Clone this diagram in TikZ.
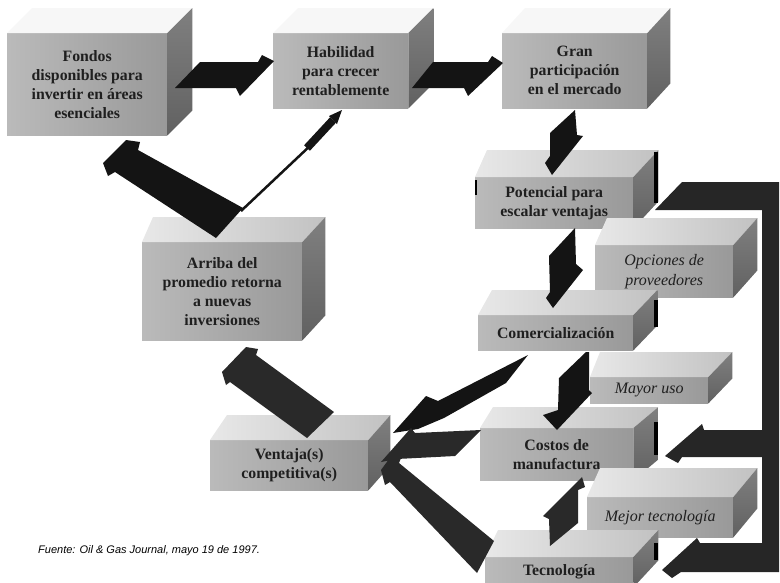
\documentclass[tikz,border=0pt]{standalone}
\usepackage{fontspec}
\setmainfont{Liberation Serif}
\newfontfamily\capfont{Liberation Sans}
\usetikzlibrary{calc}
\tikzset{
  frontface/.style={draw=none, inner sep=0pt, align=center, text=black!88,
    left color=black!27, right color=black!40, anchor=north west},
  lbl/.style={font=\bfseries\fontsize{15.8}{19}\selectfont},
  ilbl/.style={font=\itshape\fontsize{16}{20}\selectfont},
  topface/.style={left color=black!9, right color=black!24},
  flattop/.style={fill=black!3},
  sideface/.style={top color=black!50, bottom color=black!62},
  blk/.style={fill=black!92},
  dkg/.style={fill=black!84},
  tick/.style={fill=black},
  captxt/.style={font=\capfont\itshape\fontsize{11}{13}\selectfont, anchor=base west, inner sep=0pt}
}
\newcommand\cubefaces[5]{%
  \path[#5] (#1.north west) -- ++(#2,-#4) -- ($(#1.north east)+(#3,-#4)$) -- (#1.north east) -- cycle;
  \shade[sideface] (#1.north east) -- ++(#3,-#4) -- ($(#1.south east)+(#3,-#4)$) -- (#1.south east) -- cycle;
}
\begin{document}
\begin{tikzpicture}[x=1pt,y=-1pt]
\useasboundingbox (0,0) rectangle (780,582);
\clip (0,0) rectangle (780,582);

% ---------- boxes ----------
\node[frontface, lbl, minimum width=160pt, minimum height=102pt] (fondos) at (7,33)
  {Fondos\\disponibles para\\invertir en áreas\\esenciales};
\cubefaces{fondos}{25}{25}{25}{flattop}
\node[frontface, lbl, minimum width=135pt, minimum height=75pt] (habil) at (273,33)
  {Habilidad\\para crecer\\rentablemente};
\cubefaces{habil}{25}{25}{25}{flattop}
\node[frontface, lbl, minimum width=145pt, minimum height=75pt] (gran) at (502,33)
  {Gran\\participación\\en el mercado};
\cubefaces{gran}{23}{23}{25}{flattop}

\node[frontface, lbl, minimum width=158pt, minimum height=51pt] (pot) at (475,177)
  {Potencial para\\escalar ventajas};
\cubefaces{pot}{12}{25}{27}{topface}
\node[frontface, ilbl, minimum width=138pt, minimum height=52pt] (opc) at (595,245)
  {Opciones de\\proveedores};
\cubefaces{opc}{12}{24}{27}{topface}
\node[frontface, lbl, minimum width=155pt, minimum height=35pt] (com) at (478,315)
  {Comercialización};
\cubefaces{com}{14}{24}{25}{topface}
\node[frontface, ilbl, minimum width=118pt, minimum height=26pt] (may) at (590,377)
  {Mayor uso};
\cubefaces{may}{10}{24}{25}{topface}
\node[frontface, lbl, minimum width=153pt, minimum height=52pt] (cos) at (480,428)
  {Costos de\\manufactura};
\cubefaces{cos}{13}{25}{21}{topface}
\node[frontface, ilbl, minimum width=146pt, minimum height=40pt] (mej) at (587,497)
  {Mejor tecnología};
\cubefaces{mej}{13}{24}{29}{topface}
\node[frontface, lbl, minimum width=148pt, minimum height=30pt] (tec) at (485,557)
  {Tecnología};
\cubefaces{tec}{13}{25}{27}{topface}
\fill[black!34] (tec.south west) rectangle ++(148,20);
\node[frontface, lbl, minimum width=160pt, minimum height=98pt] (arr) at (142,242)
  {Arriba del\\promedio retorna\\a nuevas\\inversiones};
\cubefaces{arr}{11}{23}{25}{topface}
\node[frontface, lbl, minimum width=158pt, minimum height=50pt] (ven) at (210,440)
  {Ventaja(s)\\competitiva(s)};
\cubefaces{ven}{17}{22}{25}{topface}

% small dark edges of the scanned blocks
\fill[tick] (654,152) rectangle (658,203);
\fill[tick] (654,300) rectangle (658,327);
\fill[tick] (654,422) rectangle (658,455);
\fill[tick] (654,543) rectangle (658,560);
\fill[tick] (762,523) rectangle (765,535);
\fill[tick] (475,180) rectangle (477,195);

% ---------- arrows ----------
\fill[blk] (175,88) -- (200,62) -- (258,62) -- (262,55) -- (274,61) -- (240,96) -- (236,88) -- cycle;
\fill[blk] (412,88) -- (433,62) -- (488,62) -- (492,56) -- (503,63) -- (468,96) -- (464,88) -- cycle;
\fill[blk] (575,110) -- (577,135) -- (583,136) -- (552,175) -- (545,163) -- (550,156) -- (550,133) -- cycle;
\fill[blk] (575,228) -- (576,264) -- (583,270) -- (553,308) -- (546,298) -- (550,292) -- (549,256) -- cycle;
\fill[blk] (586,352) -- (589,352) -- (589,390) -- (592,393) -- (557,430) -- (543,415) -- (558,410) -- (559,378) -- cycle;
\fill[dkg] (582,477) -- (585,487) -- (578,490) -- (578,523) -- (550,546) -- (549,519) -- (543,516) -- cycle;
\fill[blk] (528,355) -- (438,401) -- (426,396) -- (393,433) -- (418,429) -- (444,418) -- (506,383) -- cycle;
\fill[dkg] (481,430) -- (415,433) -- (411,428) -- (381,462) -- (397,459) -- (455,456) -- cycle;
\fill[dkg] (381,470) -- (392,455) -- (401,458) -- (399,463) -- (494,541) -- (477,573) -- (390,482) -- (385,485) -- cycle;
\fill[dkg] (222,372) -- (246,347) -- (258,349) -- (256,355) -- (334,412) -- (307,438) -- (230,382) -- (226,385) -- cycle;
\fill[blk] (103,163) -- (126,140) -- (140,142) -- (138,150) -- (243,208) -- (216,238) -- (115,172) -- (108,176) -- cycle;
% thin arrow to Habilidad
\draw[black!92, line width=2.5pt] (241,211) -- (312,144);
\draw[black!92, line width=8pt] (307,148) -- (333,120);
\fill[blk] (337,124) -- (342,110) -- (329,116) -- cycle;
% large bracket from Potencial to Costos and Tecnologia
\fill[black!85] (682,182) -- (779,182) -- (779,572) -- (681,572) -- (672,578) -- (662,570) -- (697,538) -- (700,543)
  -- (762,543) -- (762,457) -- (682,457) -- (678,463) -- (665,456) -- (702,424) -- (704,430) -- (762,430)
  -- (762,210) -- (655,210) -- cycle;

% ---------- caption ----------
\node[captxt] (src) at (38,553) {Fuente: Oil \& Gas Journal, mayo 19 de 1997.};
\end{tikzpicture}
\end{document}
